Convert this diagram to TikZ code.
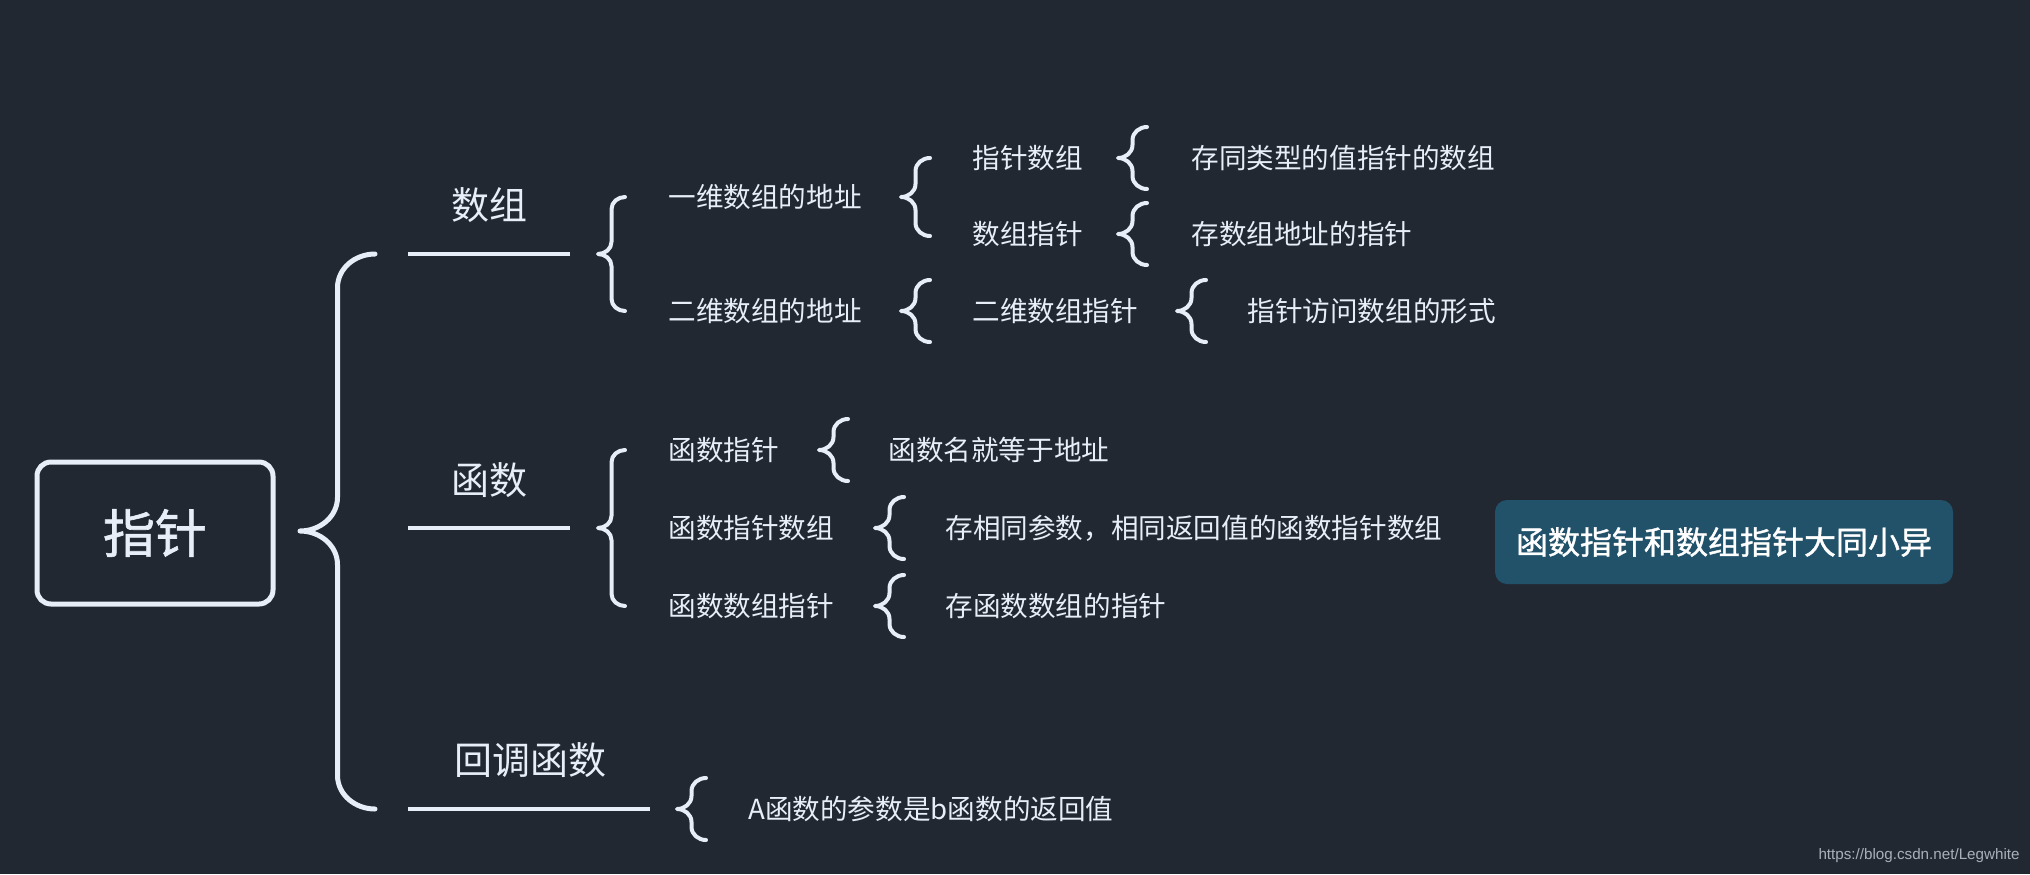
\documentclass[tikz,border=0pt]{standalone}
\usepackage{fontspec}
\setmainfont{Noto Sans CJK SC}
\newfontfamily\dickfont[FakeBold=1.2]{Noto Sans CJK SC}
\newfontfamily\wzfont{Liberation Sans}

\definecolor{bg}{RGB}{34,40,50}
\definecolor{fg}{RGB}{232,238,247}
\definecolor{note}{RGB}{33,82,106}
\definecolor{wz}{RGB}{170,176,184}

\tikzset{
  kuo/.style={draw=fg, line width=2pt, line cap=round, line join=round},
  xian/.style={draw=fg, line width=2pt},
  rootbox/.style={draw=fg, line width=2.5pt, rounded corners=7pt, minimum width=118pt, minimum height=71pt, text=fg, font=\dickfont\fontsize{26}{30}\selectfont},
  lv1/.style={text=fg, inner sep=0pt, font=\fontsize{19}{23}\selectfont},
  item/.style={text=fg, inner sep=0pt, anchor=west, font=\fontsize{13.8}{17}\selectfont},
  notebox/.style={fill=note, rounded corners=6pt, minimum width=229pt, minimum height=42pt, text=white, font=\dickfont\fontsize{16}{20}\selectfont}
}

% brace: #2 x of right ends, #3 x of tip, #4 y top, #5 y tip, #6 y bottom (px, y downwards)
\newcommand\kuohao[6][]{%
  \pgfmathsetmacro\xv{(#2+#3)/2}%
  \pgfmathsetmacro\rr{0.45*(#2-#3)}%
  \draw[kuo,#1] (#2,-#4) to[out=180,in=90] (\xv,-#4-\rr) -- (\xv,-#5+\rr)
    to[out=-90,in=0] (#3,-#5) to[out=0,in=90] (\xv,-#5-\rr) -- (\xv,-#6+\rr)
    to[out=-90,in=180] (#2,-#6);}

\begin{document}
\begin{tikzpicture}[x=0.5pt,y=0.5pt]
 \fill[bg] (0,0) rectangle (2030,-874);
 \useasboundingbox (0,0) rectangle (2030,-874);

 % Wurzel
 \node[rootbox] (zhizhen) at (155,-533) {指针};
 \kuohao[line width=2.5pt]{375}{300}{254}{531}{809}

 % erste Ebene
 \node[lv1] (shuzu) at (489,-205) {数组};
 \draw[xian] (408,-254) -- (570,-254);
 \node[lv1] (hanshu) at (489,-480) {函数};
 \draw[xian] (408,-528) -- (570,-528);
 \node[lv1] (huidiao) at (530,-760) {回调函数};
 \draw[xian] (408,-809) -- (650,-809);

 % Arrays
 \kuohao{625}{598}{197}{254}{311}
 \node[item] (yiwei) at (668,-197) {一维数组的地址};
 \node[item] (erwei) at (668,-311) {二维数组的地址};
 \kuohao{930}{901}{158}{197}{236}
 \node[item] (zzsz) at (972,-158) {指针数组};
 \node[item] (szzz) at (972,-234) {数组指针};
 \kuohao{1147}{1118}{127}{158}{189}
 \node[item] (zzsz1) at (1191,-158) {存同类型的值指针的数组};
 \kuohao{1147}{1118}{203}{234}{265}
 \node[item] (szzz1) at (1191,-234) {存数组地址的指针};
 \kuohao{930}{901}{280}{311}{342}
 \node[item] (ewzz) at (972,-311) {二维数组指针};
 \kuohao{1206}{1177}{280}{311}{342}
 \node[item] (ewzz1) at (1247,-311) {指针访问数组的形式};

 % Funktionen
 \kuohao{625}{598}{450}{528}{606}
 \node[item] (hszz) at (668,-450) {函数指针};
 \node[item] (hszzsz) at (668,-528) {函数指针数组};
 \node[item] (hsszzz) at (668,-606) {函数数组指针};
 \kuohao{848}{819}{419}{450}{481}
 \node[item] (hszz1) at (888,-450) {函数名就等于地址};
 \kuohao{904}{875}{497}{528}{559}
 \node[item] (hszzsz1) at (945,-528) {存相同参数，相同返回值的函数指针数组};
 \kuohao{904}{875}{575}{606}{637}
 \node[item] (hsszzz1) at (945,-606) {存函数数组的指针};

 % Rueckruf
 \kuohao{706}{677}{778}{809}{840}
 \node[item] (huidiao1) at (748,-809) {A函数的参数是b函数的返回值};

 % Notiz
 \node[notebox] (beizhu) at (1724,-542) {函数指针和数组指针大同小异};

 \node[anchor=east, inner sep=0pt, text=wz, font=\wzfont\fontsize{7.6}{9}\selectfont] (url) at (2020,-856) {https://blog.csdn.net/Legwhite};
\end{tikzpicture}
\end{document}
